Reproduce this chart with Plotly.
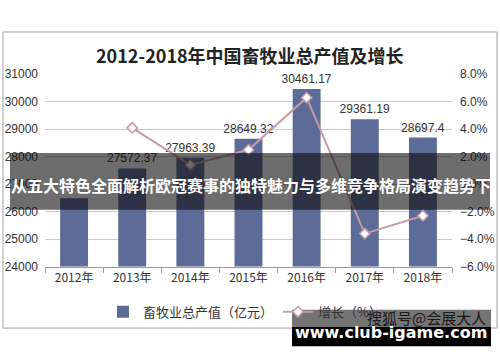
import plotly.graph_objects as go

W, H = 500, 362

years = ["2012年", "2013年", "2014年", "2015年", "2016年", "2017年", "2018年"]
output_value = [26491.2, 27572.37, 27963.39, 28649.32, 30461.17, 29361.19, 28697.4]
output_labels = ["", "27572.37", "27963.39", "28649.32", "30461.17", "29361.19", "28697.4"]
growth_years = ["2013年", "2014年", "2015年", "2016年", "2017年", "2018年"]
growth_pct = [4.1, 1.4, 2.5, 6.3, -3.6, -2.3]

title_text = "2012-2018年中国畜牧业总产值及增长"
overlay_text = "从五大特色全面解析欧冠赛事的独特魅力与多维竞争格局演变趋势下"
wm_top = "搜狐号@会展大人"
wm_bottom = "www.club-igame.com"

BAR = "#5d6b98"
LINE = "#c49ca8"
FONT = "Liberation Sans, Arial, sans-serif"
CJK = "Noto Sans CJK SC"


def px(x):
    return x / W


def py(y):
    return 1 - y / H


fig = go.Figure()
fig.add_trace(go.Bar(
    x=years, y=output_value, name="畜牧业总产值（亿元）",
    marker=dict(color=BAR, line=dict(width=0)), width=0.48,
    text=output_labels, textposition="outside", cliponaxis=False,
    constraintext="none",
    textfont=dict(family=FONT, size=12, color="#333333"),
))
fig.add_trace(go.Scatter(
    x=growth_years, y=growth_pct, name="增长（%）", yaxis="y2",
    mode="lines+markers",
    line=dict(color=LINE, width=2),
    marker=dict(symbol="diamond", size=8, color="white", line=dict(color=LINE, width=1.5)),
))

fig.update_layout(
    width=W, height=H,
    margin=dict(l=0, r=0, t=0, b=0),
    paper_bgcolor="white", plot_bgcolor="white",
    font=dict(family=FONT, size=12, color="#333333"),
    showlegend=True,
    legend=dict(orientation="h", x=0.49, xanchor="center", y=py(317), yanchor="middle",
                font=dict(family=CJK, size=13, color="#333333"), bgcolor="rgba(0,0,0,0)"),
    xaxis=dict(domain=[px(45), px(452)], showline=True, linecolor="#999999", linewidth=1,
               ticks="outside", tickson="boundaries", ticklen=5, tickcolor="#999999",
               tickfont=dict(family=CJK, size=12, color="#333333"), showgrid=False),
    yaxis=dict(domain=[py(270), py(70)], range=[24000, 31000], dtick=1000,
               tickformat="d",
               showgrid=True, gridcolor="#c8c8c8", gridwidth=1, zeroline=False,
               showline=False, ticklabelstandoff=6,
               tickfont=dict(family=FONT, size=12, color="#333333")),
    yaxis2=dict(overlaying="y", side="right", range=[-6, 8], dtick=2,
                tickformat=".1f", ticksuffix="%", showgrid=False, zeroline=False,
                showline=False, ticklabelstandoff=7,
                tickfont=dict(family=FONT, size=12, color="#333333")),
    bargap=0.52,
)

shapes = [
    dict(type="rect", xref="paper", yref="paper", x0=px(3), x1=px(497), y0=py(334), y1=py(26),
         line=dict(color="#a0a0a0", width=1), fillcolor="rgba(0,0,0,0)", layer="below"),
    dict(type="rect", xref="paper", yref="paper", x0=px(10), x1=px(490), y0=py(211), y1=py(152),
         line=dict(width=0), fillcolor="rgba(12,12,12,0.6)", layer="above"),
    dict(type="rect", xref="paper", yref="paper", x0=px(292), x1=px(491), y0=py(333), y1=py(315),
         line=dict(width=0), fillcolor="rgba(70,70,70,0.75)", layer="above"),
    dict(type="rect", xref="paper", yref="paper", x0=px(292), x1=px(491), y0=py(353), y1=py(333),
         line=dict(width=0), fillcolor="#000000", layer="above"),
]
fig.update_layout(shapes=shapes)

annotations = [
    dict(text=title_text, x=px(250), y=py(50), xref="paper", yref="paper", showarrow=False,
         xanchor="center", yanchor="middle",
         font=dict(family=CJK, size=18, color="#222222", weight="bold")),
    dict(text=overlay_text, x=px(251), y=py(185), xref="paper", yref="paper", showarrow=False,
         xanchor="center", yanchor="middle",
         font=dict(family=CJK, size=16, color="white", weight="bold")),
    dict(text=wm_top, x=px(488), y=py(323), xref="paper", yref="paper", showarrow=False,
         xanchor="right", yanchor="middle",
         font=dict(family=CJK, size=15, color="#1a1a1a")),
    dict(text=wm_bottom, x=px(391), y=py(339), xref="paper", yref="paper", showarrow=False,
         xanchor="center", yanchor="middle",
         font=dict(family="DejaVu Sans, sans-serif", size=16, color="white", weight="bold")),
]
fig.update_layout(annotations=annotations)

fig.write_html("out.html")
